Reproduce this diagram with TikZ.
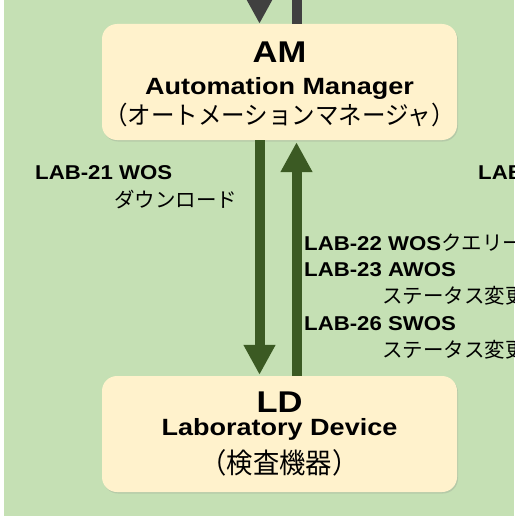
\documentclass[tikz,border=0pt]{standalone}
\usepackage{fontspec}
\setmainfont{Liberation Sans}
\newfontfamily\lat{Liberation Sans}[FakeStretch=1.15]
\newfontfamily\latl{Liberation Sans}[FakeStretch=1.11]
\newfontfamily\cjk{Noto Sans CJK JP}
\newfontfamily\cjkn{Noto Sans CJK JP}[FakeStretch=0.94]
\usetikzlibrary{arrows.meta,shadows}
\definecolor{bggreen}{HTML}{C5E0B4}
\definecolor{boxfill}{HTML}{FFF2CC}
\definecolor{dkgreen}{HTML}{3B5A23}
\definecolor{dkgray}{HTML}{404040}
\tikzset{
  box/.style={fill=boxfill, rounded corners=15pt, minimum width=355pt, minimum height=116pt,
    inner sep=0pt, drop shadow={shadow xshift=1pt, shadow yshift=-1.5pt, opacity=0.22}},
  ttl/.style={inner sep=0pt, anchor=base, font=\lat\bfseries\fontsize{30}{36}\selectfont},
  sub/.style={inner sep=0pt, anchor=base, font=\lat\bfseries\fontsize{23.5}{28}\selectfont},
  jsub/.style={inner sep=0pt, anchor=base, font=\cjkn\fontsize{25}{28}\selectfont},
  lbl/.style={inner sep=0pt, anchor=base west, font=\latl\bfseries\fontsize{20}{24}\selectfont},
  jlbl/.style={inner sep=0pt, anchor=base west, font=\cjk\fontsize{20.5}{24}\selectfont},
  flow/.style={draw=dkgreen, line width=10pt, -{Triangle[length=30pt,width=30pt]}},
  gflow/.style={draw=dkgray, line width=10pt, -{Triangle[length=30pt,width=30pt]}},
}
\newcommand{\jp}{\cjk\mdseries\fontsize{20.5}{24}\selectfont}
\begin{document}
\begin{tikzpicture}[x=1pt,y=-1pt]
  \useasboundingbox (0,0) rectangle (519,519);
  \fill[white] (0,0) rectangle (519,519);
  \fill[bggreen] (4,0) rectangle (514,516);
  \clip (4,0) rectangle (514,516);

  % boxes
  \node[box] (am) at (279.5,82) {};
  \node[box] (ld) at (279.5,434) {};

  \node[ttl] (amt) at (279.5,63) {AM};
  \node[sub] (ams) at (279.5,94) {Automation Manager};
  \node[jsub] (amj) at (279.5,124) {（オートメーションマネージャ）};

  \node[ttl] (ldt) at (279.5,412) {LD};
  \node[sub] (lds) at (279.5,435) {Laboratory Device};
  \node[jsub, font=\cjkn\fontsize{28}{30}\selectfont] (ldj) at (279.5,473) {（検査機器）};

  % arrow columns
  \coordinate (dx) at (259.5,0);
  \coordinate (ux) at (296.5,0);
  \coordinate (gin) at (259.5,-60);
  \coordinate (gout) at (296.5,-60);

  \draw[gflow] (gin) -- (gin |- am.north);
  \draw[gflow] (am.north -| gout) -- (gout);
  \draw[flow, shorten >=1pt] (am.south -| dx) -- (ld.north -| dx);
  \draw[flow, shorten >=2pt] (ld.north -| ux) -- (am.south -| ux);

  % labels
  \node[lbl] (l21) at (35,179) {LAB-21 WOS};
  \node[jlbl] (l21j) at (114,207) {ダウンロード};
  \node[lbl] (l2x) at (478,179) {LAB};
  \node[lbl] (l22) at (304,250) {LAB-22 WOS{\jp クエリー}};
  \node[lbl] (l23) at (304,276.5) {LAB-23 AWOS};
  \node[jlbl] (l23j) at (382,303.5) {ステータス変更};
  \node[lbl] (l26) at (304,330) {LAB-26 SWOS};
  \node[jlbl] (l26j) at (382,357) {ステータス変更};
\end{tikzpicture}
\end{document}
